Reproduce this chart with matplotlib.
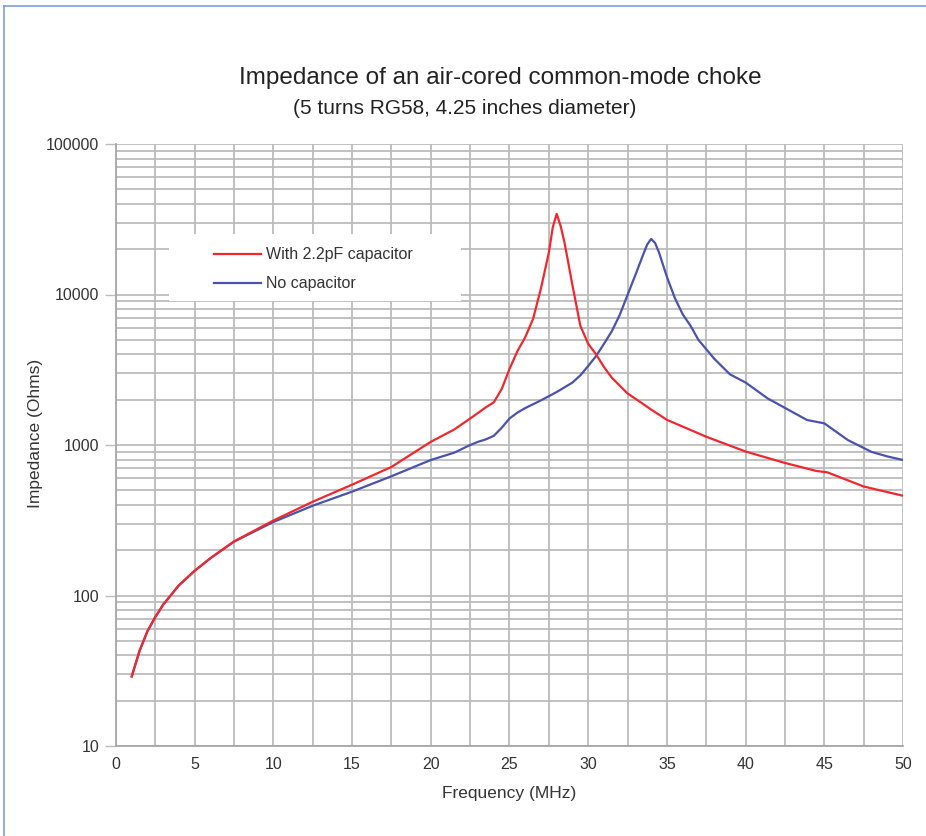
import numpy as np
import matplotlib
matplotlib.use('Agg')
import matplotlib.pyplot as plt
from matplotlib.lines import Line2D
from matplotlib.patches import Rectangle

plt.rcParams['font.family'] = ['Liberation Sans', 'DejaVu Sans']

# frequency (MHz) and impedance (Ohms)
freq_red = [1, 1.5, 2, 2.5, 3, 4, 5, 6, 7.5, 10, 12.5, 15, 17.5, 20, 21.5, 22.5,
            23.5, 24, 24.5, 25, 25.5, 26, 26.5, 27, 27.5, 27.75, 28, 28.25, 28.5,
            29, 29.5, 30, 30.5, 31, 31.5, 32.5, 33, 34, 35, 37.5, 40, 42.5, 44.5,
            45.2, 47.5, 50]
z_red = [29, 43, 58, 72, 87, 117, 146, 177, 229, 315, 420, 545, 715, 1050, 1270, 1500,
         1780, 1920, 2350, 3200, 4200, 5200, 6900, 11000, 19000, 28000, 34300, 28500, 22000,
         11500, 6200, 4700, 4000, 3300, 2800, 2200, 2030, 1720, 1470, 1135, 905, 760, 672,
         658, 530, 460]

freq_blue = [1, 1.5, 2, 2.5, 3, 4, 5, 6, 7.5, 10, 12.5, 15, 17.5, 20, 21.5, 22.5,
             23, 23.5, 24, 24.5, 25, 25.5, 26, 27, 28, 29, 29.5, 30, 30.5, 31, 31.5,
             32, 33, 33.5, 33.75, 34, 34.25, 34.5, 35, 35.5, 36, 36.5, 37, 38, 39, 40,
             41.4, 43.9, 45, 46.5, 48, 49, 50]
z_blue = [29, 43, 58, 72, 87, 117, 146, 177, 228, 308, 395, 490, 620, 795, 890, 1000,
          1050, 1090, 1150, 1300, 1500, 1640, 1760, 1980, 2250, 2600, 2900, 3350, 3900, 4700, 5700,
          7300, 13500, 18500, 21500, 23400, 22000, 19000, 13100, 9500, 7400, 6200, 5000, 3750, 2950, 2600,
          2040, 1466, 1393, 1078, 900, 840, 795]

labels = ['With 2.2pF capacitor', 'No capacitor']
x_ticks = [0, 5, 10, 15, 20, 25, 30, 35, 40, 45, 50]
y_ticks = [10, 100, 1000, 10000, 100000]

W, H = 926, 836
fig = plt.figure(figsize=(W / 100, H / 100), dpi=100)
ax = fig.add_axes([116 / W, 1 - 746 / H, 787 / W, 602 / H])

grid_c = '#bcbcbc'
txt_c = '#333333'
ax.set_yscale('log')
ax.set_xlim(0, 50)
ax.set_ylim(10, 100000)
ax.set_axisbelow(True)

ax.set_xticks(x_ticks)
ax.set_xticks(np.arange(0, 50.1, 2.5), minor=True)
ax.set_yticks(y_ticks)
ax.set_yticklabels([str(v) for v in y_ticks])
ax.yaxis.set_minor_locator(matplotlib.ticker.LogLocator(base=10, subs=np.arange(2, 10)))
ax.yaxis.set_minor_formatter(matplotlib.ticker.NullFormatter())
ax.grid(True, which='both', color=grid_c, lw=1.3)
ax.tick_params(axis='x', which='both', length=0, pad=8, labelsize=11.5, labelcolor=txt_c)
ax.tick_params(axis='y', which='major', length=8, width=1, color=grid_c, pad=4,
               labelsize=11.5, labelcolor=txt_c)
ax.tick_params(axis='y', which='minor', length=0)
for s in ['top', 'right']:
    ax.spines[s].set_visible(False)
for s in ['left', 'bottom']:
    ax.spines[s].set_color('#a8a8a8')
    ax.spines[s].set_linewidth(1.3)

# white box behind the legend hides the grid
ax.add_patch(Rectangle((0.067, 0.74), 0.372, 0.11, transform=ax.transAxes,
                       facecolor='white', edgecolor='none', zorder=1))

ax.plot(freq_red, z_red, color='#f0282e', lw=1.6, label=labels[0], zorder=3)
ax.plot(freq_blue, z_blue, color='#4a52ac', lw=1.6, label=labels[1], zorder=2)

ax.legend(loc='upper left', bbox_to_anchor=(0.114, 0.842), frameon=False,
          fontsize=11.5, handlelength=2.95, handletextpad=0.3, labelspacing=0.88,
          borderpad=0, labelcolor=txt_c)

ax.set_xlabel('Frequency (MHz)', fontsize=12.5, color=txt_c, labelpad=10)
ax.set_ylabel('Impedance (Ohms)', fontsize=12.5, color=txt_c)
ax.yaxis.set_label_coords(-0.093, 0.52)

fig.text(500 / W, 1 - 78 / H, 'Impedance of an air-cored common-mode choke',
         ha='center', va='center', fontsize=17.5, color='#222222')
fig.text(465 / W, 1 - 108 / H, '(5 turns RG58, 4.25 inches diameter)',
         ha='center', va='center', fontsize=15, color='#222222')

# outer frame of the screenshot
frame_c = '#7f9fd2'
fig.add_artist(Line2D([3.5 / W, 3.5 / W], [0, 1 - 6 / H], color=frame_c, lw=1.2))
fig.add_artist(Line2D([3.5 / W, 1], [1 - 6 / H, 1 - 6 / H], color=frame_c, lw=1.2))

fig.savefig('out.png', dpi=100, facecolor='white')
